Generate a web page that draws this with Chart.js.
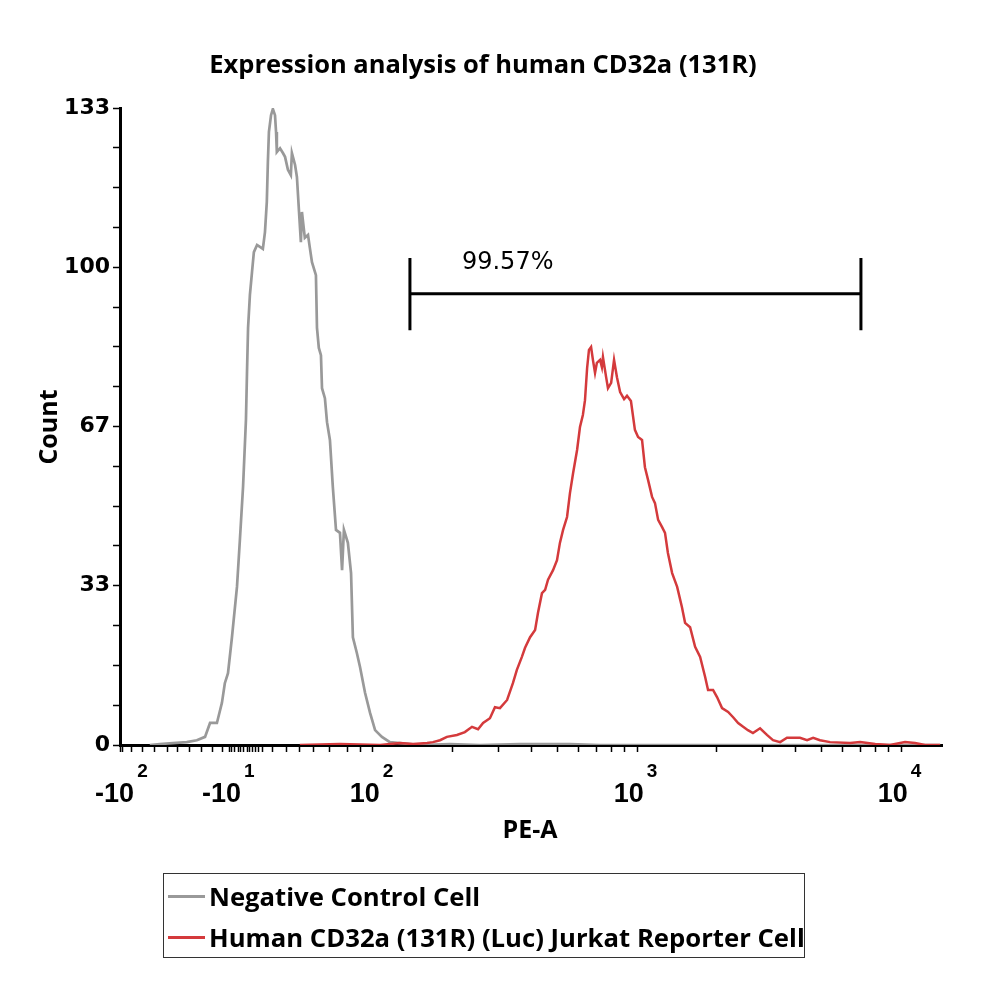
<!DOCTYPE html>
<html><head><meta charset="utf-8">
<script src="https://cdn.jsdelivr.net/npm/chart.js@4/dist/chart.umd.min.js"></script>
<style>
html,body{margin:0;padding:0;background:#fff;}
#wrap{position:relative;width:1000px;height:1000px;background:#fff;}
canvas{position:absolute;left:0;top:0;}
#legend{position:absolute;left:163px;top:873px;width:642px;height:85px;box-sizing:border-box;border:1px solid #333;font:bold 25.7px "Open Sans",sans-serif;color:#000;}
.item{position:absolute;left:4px;height:40px;display:flex;align-items:center;white-space:nowrap;}
.sw{width:37px;height:3px;margin-right:4px;}
</style></head>
<body>
<div id="wrap">
<canvas id="c" width="1000" height="1000"></canvas>
<div id="legend"></div>
</div>
<script>
// ---------- text ----------
const chartTitle = "Expression analysis of human CD32a (131R)";
const xAxisTitle = "PE-A";
const yAxisTitle = "Count";
const seriesNames = ["Negative Control Cell", "Human CD32a (131R) (Luc) Jurkat Reporter Cell"];
const seriesColors = ["#999999", "#d43a3c"];

// ---------- x axis (display units: 2 = 10^2, 3 = 10^3, 4 = 10^4; biexponential below 10^2) ----------
const xMin = 1.042, xMax = 4.155;
const xMajorTicks = [1.053, 1.458, 2, 3, 4];
const xTickBase = ["-10", "-10", "10", "10", "10"];
const xTickExp = ["2", "1", "2", "3", "4"];
const xMinorTicks = [1.042, 1.087, 1.129, 1.174, 1.220, 1.261, 1.307, 1.352, 1.394, 1.432,
  1.466, 1.477, 1.489, 1.500, 1.511, 1.523, 1.534, 1.545, 1.557, 1.568, 1.580,
  1.621, 1.674, 1.723, 1.773, 1.837, 1.902, 1.951,
  2.301, 2.477, 2.602, 2.699, 2.778, 2.845, 2.903, 2.954,
  3.301, 3.477, 3.602, 3.699, 3.778, 3.845, 3.903, 3.954];

// ---------- y axis ----------
const yMin = 0, yMax = 133;
const yMajorTicks = [0, 33.25, 66.5, 99.75, 133];
const yTickLabels = ["0", "33", "67", "100", "133"];
const yMinorTicks = [8.31, 16.63, 24.94, 41.56, 49.88, 58.19, 74.81, 83.13, 91.44, 108.06, 116.38, 124.69];

// ---------- gate ----------
const gateStart = 2.140, gateEnd = 3.848, gateLevel = 94.2, gateTop = 101.7, gateBottom = 86.6;
const gateText = "99.57%";
const gateTextX = 2.337, gateTextY = 99.4;

// ---------- series: Negative Control Cell ----------
const greyX = [1.155,1.193,1.242,1.295,1.333,1.364,1.383,1.409,1.428,1.439,1.451,1.466,1.485,1.496,1.508,1.519,1.523,1.527,1.534,1.542,1.549,1.561,1.572,1.583,1.591,1.598,1.602,1.606,1.614,1.621,1.629,1.633,1.636,1.648,1.659,1.667,1.678,1.689,1.693,1.705,1.712,1.720,1.727,1.731,1.742,1.754,1.761,1.769,1.784,1.788,1.795,1.803,1.807,1.818,1.826,1.837,1.848,1.860,1.875,1.883,1.890,1.905,1.917,1.924,1.939,1.951,1.970,1.989,2.008,2.034,2.064,2.102,2.178,2.292,2.405,2.557,2.746,2.860,3.239,3.617,3.996,4.148];
const greyCount = [0,0.2,0.4,0.6,1.0,1.7,4.6,4.6,8.8,12.9,15.0,22.5,33.0,42.8,53.9,67.9,77.9,87.1,94.0,98.8,102.9,104.4,104.0,103.6,107.1,113.4,121.7,128.0,131.5,132.8,131.5,128.0,123.8,124.6,123.6,122.8,120.1,119.0,123.6,121.1,118.6,111.3,105.0,111.3,105.9,106.5,103.8,100.8,98.1,87.1,82.9,81.4,74.5,72.4,67.4,63.7,53.9,44.9,44.3,36.5,44.9,42.2,35.9,22.5,19.2,16.3,10.9,6.7,3.1,1.7,0.6,0.4,0,0.2,0,0.2,0.2,0,0,0,0,0];

// ---------- series: Human CD32a (131R) (Luc) Jurkat Reporter Cell ----------
const redX = [1.723,1.875,2.027,2.102,2.152,2.205,2.227,2.254,2.280,2.318,2.348,2.375,2.398,2.417,2.443,2.462,2.481,2.508,2.530,2.545,2.564,2.576,2.595,2.614,2.625,2.640,2.652,2.663,2.682,2.697,2.708,2.720,2.735,2.746,2.758,2.773,2.784,2.795,2.803,2.811,2.818,2.826,2.833,2.841,2.848,2.860,2.867,2.871,2.883,2.890,2.902,2.913,2.924,2.936,2.951,2.962,2.977,2.992,3.004,3.019,3.030,3.042,3.057,3.068,3.080,3.095,3.106,3.117,3.133,3.152,3.170,3.182,3.201,3.220,3.239,3.258,3.269,3.288,3.303,3.322,3.345,3.364,3.383,3.402,3.420,3.439,3.466,3.492,3.515,3.542,3.568,3.591,3.617,3.644,3.667,3.693,3.731,3.807,3.845,3.902,3.958,4.015,4.053,4.091,4.148];
const redCount = [0,0.2,0,0.4,0.2,0.4,0.6,1.0,1.7,2.1,2.7,3.8,3.3,4.6,5.6,7.9,7.7,9.4,12.9,15.7,18.4,20.3,22.5,24.0,27.6,31.7,32.4,34.5,36.5,38.6,42.2,44.9,47.6,52.6,56.8,61.6,66.4,68.9,72.0,78.7,82.5,83.1,80.4,77.7,79.8,80.4,78.9,81.0,76.8,74.5,75.6,80.4,76.8,73.7,72.2,72.9,71.8,65.8,64.3,63.7,58.0,55.3,51.8,50.5,47.0,45.5,44.3,40.1,35.9,33.0,28.8,25.5,24.6,20.5,18.4,14.2,11.5,11.5,10.0,7.7,6.9,5.8,4.6,3.8,3.1,2.5,3.5,2.1,1.0,0.6,1.5,1.5,1.5,1.0,1.5,1.0,0.6,0.4,0.6,0.2,0,0.6,0.4,0,0];

// ---------- legend (HTML) ----------
const leg = document.getElementById('legend');
seriesNames.forEach((n, i) => {
  const d = document.createElement('div');
  d.className = 'item';
  d.style.top = (i === 0 ? 2 : 43) + 'px';
  d.innerHTML = '<span class="sw" style="background:' + seriesColors[i] + '"></span><span>' + n + '</span>';
  leg.appendChild(d);
});

const overlay = {
  id: 'overlay',
  afterDraw(chart) {
    const ctx = chart.ctx, xs = chart.scales.x, ys = chart.scales.y;
    ctx.save();
    ctx.fillStyle = '#000';
    ctx.textBaseline = 'alphabetic';
    // title
    ctx.textAlign = 'center';
    ctx.font = 'bold 25.5px "Open Sans", sans-serif';
    ctx.fillText(chartTitle, 483, 73);
    // x axis title
    ctx.font = 'bold 25px "Open Sans", sans-serif';
    ctx.fillText(xAxisTitle, 530, 838);
    // y axis title
    ctx.save();
    ctx.translate(57, 427);
    ctx.rotate(-Math.PI / 2);
    ctx.fillText(yAxisTitle, 0, 0);
    ctx.restore();
    // x tick labels with superscripts
    const baseFont = 'bold 27px "Liberation Sans", sans-serif';
    const supFont = 'bold 19px "Liberation Sans", sans-serif';
    ctx.textAlign = 'left';
    xMajorTicks.forEach((v, i) => {
      const px = xs.getPixelForValue(v);
      ctx.font = baseFont; const wb = ctx.measureText(xTickBase[i]).width;
      ctx.font = supFont; const ws = ctx.measureText(xTickExp[i]).width;
      const x0 = px - (wb + ws + 2) / 2 - 2;
      ctx.font = baseFont; ctx.fillText(xTickBase[i], x0, 802);
      ctx.font = supFont; ctx.fillText(xTickExp[i], x0 + wb + 3, 777);
    });
    // gate marker
    const gx1 = xs.getPixelForValue(gateStart), gx2 = xs.getPixelForValue(gateEnd);
    const gy = ys.getPixelForValue(gateLevel), gt = ys.getPixelForValue(gateTop), gb = ys.getPixelForValue(gateBottom);
    ctx.strokeStyle = '#000'; ctx.lineWidth = 3;
    ctx.beginPath();
    ctx.moveTo(gx1, gt); ctx.lineTo(gx1, gb);
    ctx.moveTo(gx2, gt); ctx.lineTo(gx2, gb);
    ctx.moveTo(gx1, gy); ctx.lineTo(gx2, gy);
    ctx.stroke();
    ctx.font = '24px "DejaVu Sans", sans-serif';
    ctx.textAlign = 'left';
    ctx.fillText(gateText, xs.getPixelForValue(gateTextX), ys.getPixelForValue(gateTextY));
    ctx.restore();
  }
};

const near = (a, b) => Math.abs(a - b) < 1e-6;

new Chart(document.getElementById('c'), {
  type: 'scatter',
  data: {
    datasets: [
      { label: seriesNames[0], data: greyX.map((x, i) => ({ x, y: greyCount[i] })), showLine: true,
        borderColor: seriesColors[0], borderWidth: 2.7, pointRadius: 0, tension: 0, order: 2 },
      { label: seriesNames[1], data: redX.map((x, i) => ({ x, y: redCount[i] })), showLine: true,
        borderColor: seriesColors[1], borderWidth: 2.5, pointRadius: 0, tension: 0, order: 1 }
    ]
  },
  options: {
    responsive: false, animation: false, devicePixelRatio: 1,
    layout: { padding: { left: 0, top: 108, right: 58, bottom: 235 } },
    plugins: { legend: { display: false }, tooltip: { enabled: false }, title: { display: false } },
    scales: {
      x: {
        type: 'linear', min: xMin, max: xMax,
        afterBuildTicks: s => { s.ticks = xMajorTicks.concat(xMinorTicks).sort((a, b) => a - b).map(v => ({ value: v })); },
        afterFit: s => { s.height = 20; },
        ticks: { display: false, autoSkip: false },
        grid: { drawOnChartArea: false, drawTicks: true, tickLength: 7, tickWidth: 1.5, tickColor: '#000' },
        border: { display: true, color: '#000', width: 3 }
      },
      y: {
        type: 'linear', min: yMin, max: yMax,
        afterBuildTicks: s => { s.ticks = yMajorTicks.concat(yMinorTicks).sort((a, b) => a - b).map(v => ({ value: v })); },
        afterFit: s => { s.width = 120; },
        ticks: {
          autoSkip: false, color: '#000', padding: 3,
          font: { family: 'DejaVu Sans', weight: 'bold', size: 22 },
          callback: (v) => { const k = yMajorTicks.findIndex(t => near(t, v)); return k >= 0 ? yTickLabels[k] : ''; }
        },
        grid: { drawOnChartArea: false, drawTicks: true, tickLength: 7, tickWidth: 1.5, tickColor: '#000' },
        border: { display: true, color: '#000', width: 3 }
      }
    }
  },
  plugins: [overlay]
});
</script>
</body></html>
